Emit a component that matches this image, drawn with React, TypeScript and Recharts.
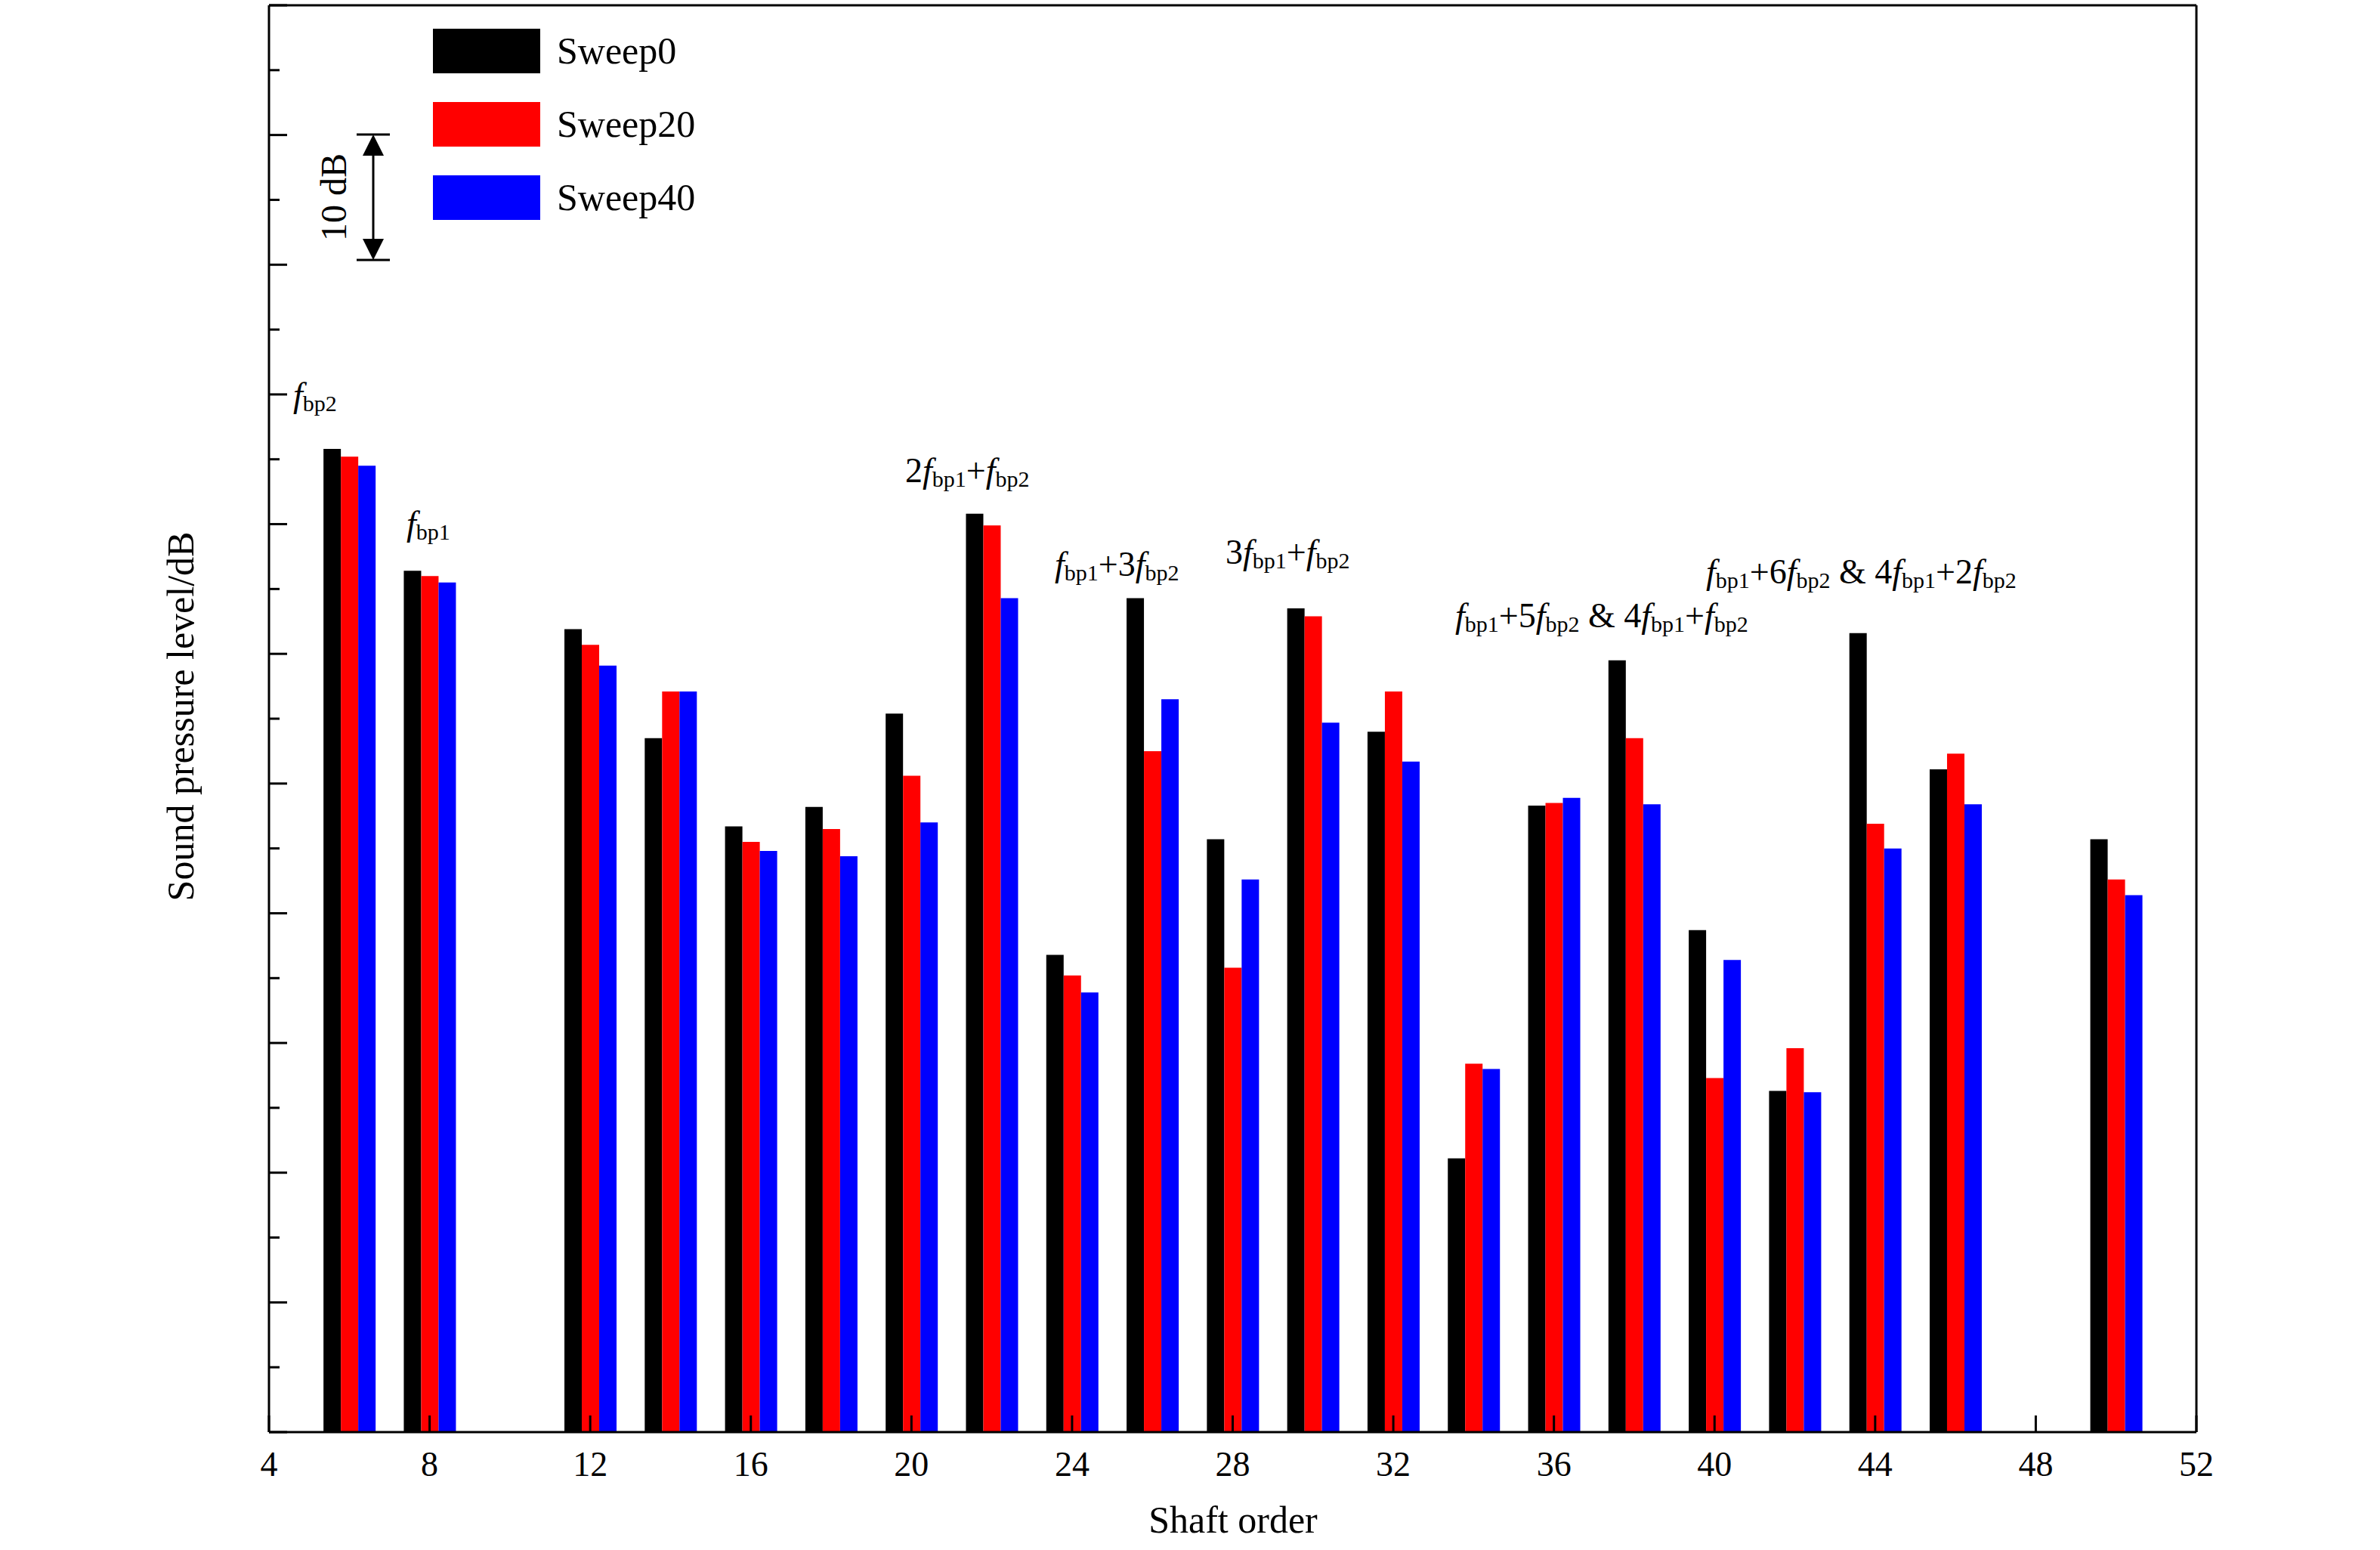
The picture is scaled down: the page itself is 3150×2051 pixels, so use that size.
import { BarChart, Bar, XAxis, YAxis } from 'recharts';

const orders = [6, 8, 12, 14, 16, 18, 20, 22, 24, 26, 28, 30, 32, 34, 36, 38, 40, 42, 44, 46, 50];
const sweep0 = [75.8, 66.4, 61.9, 53.5, 46.7, 48.2, 55.4, 70.8, 36.8, 64.3, 45.7, 63.5, 54.0, 21.1, 48.3, 59.5, 38.7, 26.3, 61.6, 51.1, 45.7];
const sweep20 = [75.2, 66.0, 60.7, 57.1, 45.5, 46.5, 50.6, 69.9, 35.2, 52.5, 35.8, 62.9, 57.1, 28.4, 48.5, 53.5, 27.3, 29.6, 46.9, 52.3, 42.6];
const sweep40 = [74.5, 65.5, 59.1, 57.1, 44.8, 44.4, 47.0, 64.3, 33.9, 56.5, 42.6, 54.7, 51.7, 28.0, 48.9, 48.4, 36.4, 26.2, 45.0, 48.4, 41.4];
const xTicks = [4, 8, 12, 16, 20, 24, 28, 32, 36, 40, 44, 48, 52];
const yTicks = [0, 5, 10, 15, 20, 25, 30, 35, 40, 45, 50, 55, 60, 65, 70, 75, 80, 85, 90, 95, 100, 105, 110];
const series = [
  { key: 's0', name: 'Sweep0', color: '#000000' },
  { key: 's20', name: 'Sweep20', color: '#ff0000' },
  { key: 's40', name: 'Sweep40', color: '#0000ff' },
];

const data = orders.map((o, i) => ({ order: o, s0: sweep0[i], s20: sweep20[i], s40: sweep40[i] }));

const FONT = '"Liberation Serif", "DejaVu Serif", serif';
const M = { top: 6, right: 242, bottom: 155, left: 355 };
const LEFT = 356;
const BOTTOM = 2051 - 156;
const AX = { stroke: '#000', strokeWidth: 3 };

function XTick(props: any) {
  const { x, payload } = props;
  return (
    <g>
      <line x1={x} x2={x} y1={BOTTOM} y2={BOTTOM - 22} stroke="#000" strokeWidth={3} />
      <text x={x} y={BOTTOM + 58} textAnchor="middle" fontSize={46} fontFamily={FONT} fill="#000">
        {payload.value}
      </text>
    </g>
  );
}

function YTick(props: any) {
  const { y, payload } = props;
  const len = payload.value % 10 === 0 ? 24 : 14;
  return <line x1={LEFT} x2={LEFT + len} y1={y} y2={y} stroke="#000" strokeWidth={3} />;
}

function F({ a, b }: { a?: string; b: string }) {
  return (
    <span>
      {a}
      <i>f</i>
      <sub style={{ fontSize: 30, verticalAlign: '-6px' }}>{b}</sub>
    </span>
  );
}

const ann: { x: number; y: number; node: any }[] = [
  { x: 388, y: 528, node: <F b="bp2" /> },
  { x: 538, y: 698, node: <F b="bp1" /> },
  { x: 1198, y: 628, node: <><F a="2" b="bp1" />+<F b="bp2" /></> },
  { x: 1396, y: 752, node: <><F b="bp1" />+<F a="3" b="bp2" /></> },
  { x: 1622, y: 736, node: <><F a="3" b="bp1" />+<F b="bp2" /></> },
  { x: 1926, y: 820, node: <><F b="bp1" />+<F a="5" b="bp2" /> &amp; <F a="4" b="bp1" />+<F b="bp2" /></> },
  { x: 2258, y: 762, node: <><F b="bp1" />+<F a="6" b="bp2" /> &amp; <F a="4" b="bp1" />+<F a="2" b="bp2" /></> },
];

export default function App() {
  return (
    <div style={{ position: 'absolute', left: 0, top: 0, width: 3150, height: 2051, background: '#fff', fontFamily: FONT }}>
      <BarChart width={3150} height={2051} data={data} margin={M} barGap={0}>
        <XAxis
          dataKey="order"
          type="number"
          domain={[4, 52]}
          ticks={xTicks}
          interval={0}
          height={1}
          tickSize={0}
          tickMargin={0}
          tickLine={false}
          tick={<XTick />}
          axisLine={AX}
        />
        <XAxis xAxisId="top" orientation="top" dataKey="order" type="number" domain={[4, 52]} tick={false} tickLine={false} axisLine={AX} height={1} />
        <YAxis
          domain={[0, 110]}
          ticks={yTicks}
          interval={0}
          width={1}
          tickSize={0}
          tickMargin={0}
          tickLine={false}
          tick={<YTick />}
          axisLine={AX}
        />
        <YAxis yAxisId="right" orientation="right" domain={[0, 110]} width={1} tick={false} tickLine={false} axisLine={AX} />
        {series.map((s) => (
          <Bar key={s.key} dataKey={s.key} name={s.name} fill={s.color} barSize={23} isAnimationActive={false} />
        ))}
      </BarChart>

      {/* legend */}
      {series.map((s, i) => (
        <div key={s.key} style={{ position: 'absolute', left: 573, top: 38 + i * 97, display: 'flex', alignItems: 'center' }}>
          <div style={{ width: 142, height: 59, background: s.color }} />
          <span style={{ marginLeft: 22, fontSize: 50, lineHeight: '59px' }}>{s.name}</span>
        </div>
      ))}

      {/* 10 dB scale bar and axis titles */}
      <svg style={{ position: 'absolute', left: 0, top: 0 }} width={3150} height={2051}>
        <line x1={472} x2={516} y1={178} y2={178} stroke="#000" strokeWidth={3} />
        <line x1={472} x2={516} y1={344} y2={344} stroke="#000" strokeWidth={3} />
        <line x1={494} x2={494} y1={200} y2={322} stroke="#000" strokeWidth={3} />
        <polygon points="494,178 480,206 508,206" fill="#000" />
        <polygon points="494,344 480,316 508,316" fill="#000" />
        <text x={0} y={0} transform="translate(458,261) rotate(-90)" textAnchor="middle" fontSize={48} fontFamily={FONT}>10 dB</text>
        <text x={0} y={0} transform="translate(256,948) rotate(-90)" textAnchor="middle" fontSize={50} fontFamily={FONT}>Sound pressure level/dB</text>
        <text x={1632} y={2028} textAnchor="middle" fontSize={50} fontFamily={FONT}>Shaft order</text>
      </svg>

      {ann.map((a, i) => (
        <div key={i} style={{ position: 'absolute', left: a.x, top: a.y - 30, fontSize: 46, lineHeight: '50px', whiteSpace: 'nowrap' }}>
          {a.node}
        </div>
      ))}
    </div>
  );
}
